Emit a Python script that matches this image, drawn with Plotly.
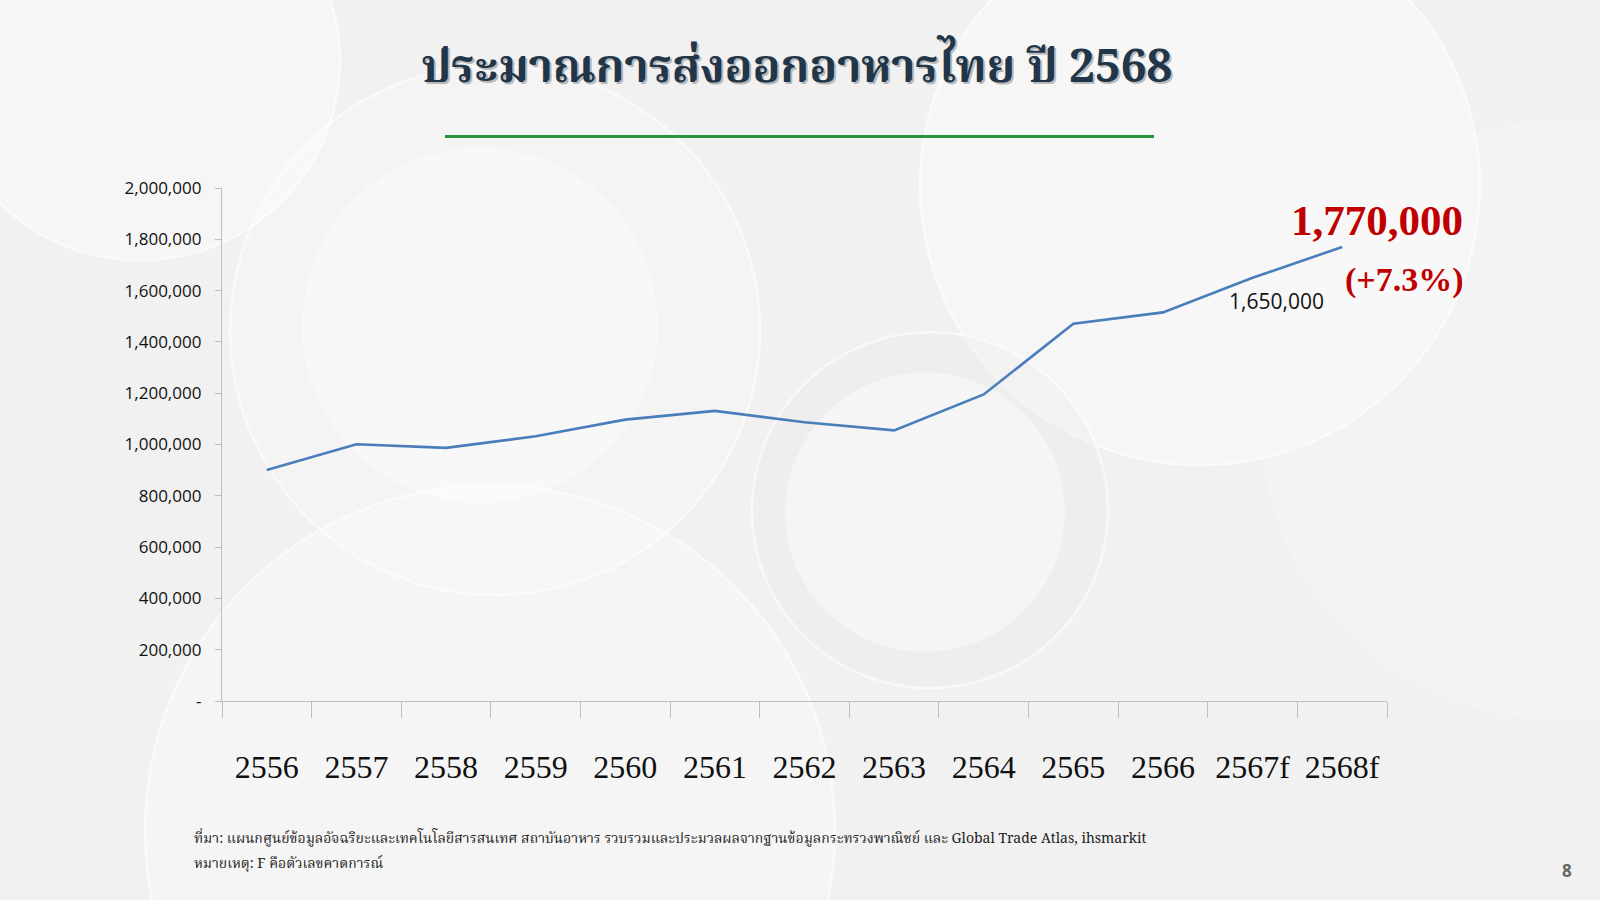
import plotly.graph_objects as go

# ---------------- data ----------------
years = ["2556", "2557", "2558", "2559", "2560", "2561", "2562",
         "2563", "2564", "2565", "2566", "2567f", "2568f"]
export_volume = [901000, 1001000, 987000, 1032000, 1097000, 1131000, 1087000,
                 1055000, 1195000, 1471000, 1515000, 1650000, 1770000]
growth_2568 = "+7.3%"
y_tick_values = [0, 200000, 400000, 600000, 800000, 1000000, 1200000,
                 1400000, 1600000, 1800000, 2000000]
y_tick_labels = ["-", "200,000", "400,000", "600,000", "800,000", "1,000,000",
                 "1,200,000", "1,400,000", "1,600,000", "1,800,000", "2,000,000"]

title_text = "ประมาณการส่งออกอาหารไทย ปี 2568"
source_text = ("ที่มา: แผนกศูนย์ข้อมูลอัจฉริยะและเทคโนโลยีสารสนเทศ สถาบันอาหาร "
               "รวบรวมและประมวลผลจากฐานข้อมูลกระทรวงพาณิชย์ และ Global Trade Atlas, ihsmarkit")
note_text = "หมายเหตุ: F คือตัวเลขคาดการณ์"

# ---------------- layout geometry ----------------
W, H = 1600, 900
L, R, T, B = 222, 1387, 187.5, 701


def px(x):
    return (x - L) / (R - L)


def py(y):
    return (B - y) / (B - T)


fig = go.Figure()

fig.add_trace(go.Scatter(
    x=years, y=export_volume, mode="lines",
    line=dict(color="#4A7EBB", width=2.6),
    hoverinfo="x+y", showlegend=False,
))

# ---------------- decorative background circles ----------------
circles = [
    # (cx, cy, r, fill, line)
    (140, 60, 200, "rgba(255,255,255,0.40)", "rgba(255,255,255,0.55)"),
    (495, 330, 265, "rgba(255,255,255,0.25)", "rgba(255,255,255,0.55)"),
    (480, 325, 178, "rgba(255,255,255,0.35)", "rgba(235,235,235,0.0)"),
    (1200, 185, 280, "rgba(255,255,255,0.35)", "rgba(255,255,255,0.55)"),
    (1230, 200, 230, "rgba(255,255,255,0.20)", "rgba(235,235,235,0.0)"),
    (930, 510, 178, "rgba(232,232,232,0.30)", "rgba(255,255,255,0.55)"),
    (925, 512, 140, "rgba(255,255,255,0.40)", "rgba(255,255,255,0.0)"),
    (490, 830, 345, "rgba(255,255,255,0.30)", "rgba(255,255,255,0.55)"),
    (1560, 420, 300, "rgba(255,255,255,0.18)", "rgba(255,255,255,0.0)"),
]
shapes = []
for cx, cy, r, fc, lc in circles:
    shapes.append(dict(
        type="circle", xref="paper", yref="paper", layer="below",
        x0=px(cx - r), x1=px(cx + r), y0=py(cy + r), y1=py(cy - r),
        fillcolor=fc, line=dict(color=lc, width=2.5),
    ))
# green rule under the title
shapes.append(dict(
    type="line", xref="paper", yref="paper",
    x0=px(445), x1=px(1154), y0=py(136), y1=py(136),
    line=dict(color="#23963A", width=3),
))

# ---------------- annotations ----------------
thai_serif = "Noto Serif Thai, Noto Sans Thai, Loma, Garuda, Liberation Serif, serif"
annotations = [
    # title shadow + title
    dict(text=f"<b>{title_text}</b>", xref="paper", yref="paper", x=px(798), y=py(71),
         showarrow=False, xanchor="center", yanchor="middle",
         font=dict(family=thai_serif, size=46, color="rgba(110,110,110,0.45)")),
    dict(text=f"<b>{title_text}</b>", xref="paper", yref="paper", x=px(796), y=py(69),
         showarrow=False, xanchor="center", yanchor="middle",
         font=dict(family=thai_serif, size=46, color="#22364A")),
    # data labels
    dict(text=f"{export_volume[-2]:,}", x=years[-2], y=export_volume[-2],
         xref="x", yref="y", showarrow=False, xshift=24, yshift=-23,
         font=dict(family="Open Sans, Liberation Sans, sans-serif", size=21, color="#111111")),
    dict(text=f"<b>{export_volume[-1]:,}</b>", x=years[-1], y=export_volume[-1],
         xref="x", yref="y", showarrow=False, xshift=35, yshift=27,
         font=dict(family="Liberation Serif, Times New Roman, serif", size=43, color="#C00000")),
    dict(text=f"<b>({growth_2568})</b>", x=years[-1], y=export_volume[-1],
         xref="x", yref="y", showarrow=False, xshift=62, yshift=-33,
         font=dict(family="Liberation Serif, Times New Roman, serif", size=34, color="#C00000")),
    # footnotes
    dict(text=source_text, xref="paper", yref="paper", x=px(192), y=py(839),
         showarrow=False, xanchor="left", yanchor="middle",
         font=dict(family=thai_serif, size=14, color="#222222")),
    dict(text=note_text, xref="paper", yref="paper", x=px(192), y=py(864),
         showarrow=False, xanchor="left", yanchor="middle",
         font=dict(family=thai_serif, size=14, color="#222222")),
    # page number
    dict(text="<b>8</b>", xref="paper", yref="paper", x=px(1567), y=py(871),
         showarrow=False, xanchor="center", yanchor="middle",
         font=dict(family="Open Sans, Liberation Sans, sans-serif", size=17, color="#666666")),
]

fig.update_layout(
    width=W, height=H,
    margin=dict(l=L, r=W - R, t=T, b=H - B, pad=0),
    paper_bgcolor="#F1F1F1",
    plot_bgcolor="rgba(0,0,0,0)",
    shapes=shapes,
    annotations=annotations,
    showlegend=False,
    xaxis=dict(
        type="category", range=[-0.5, len(years) - 0.5],
        showgrid=False, zeroline=False,
        showline=True, linecolor="#BFBFBF", linewidth=1.3,
        ticks="outside", tickson="boundaries", ticklen=16, tickcolor="#BFBFBF",
        tickwidth=1.3, ticklabelstandoff=37,
        tickfont=dict(family="Liberation Serif, Times New Roman, serif", size=32, color="#111111"),
    ),
    yaxis=dict(
        range=[0, 2000000], showgrid=False, zeroline=False,
        showline=True, linecolor="#BFBFBF", linewidth=1.3,
        tickmode="array", tickvals=y_tick_values, ticktext=y_tick_labels,
        ticks="outside", ticklen=6, tickcolor="#BFBFBF", tickwidth=1.3,
        ticklabelstandoff=10,
        tickfont=dict(family="Open Sans, Liberation Sans, sans-serif", size=17, color="#111111"),
    ),
)

fig.write_html("out.html", config={"displayModeBar": False},
               post_script="document.body.style.margin='0';")
